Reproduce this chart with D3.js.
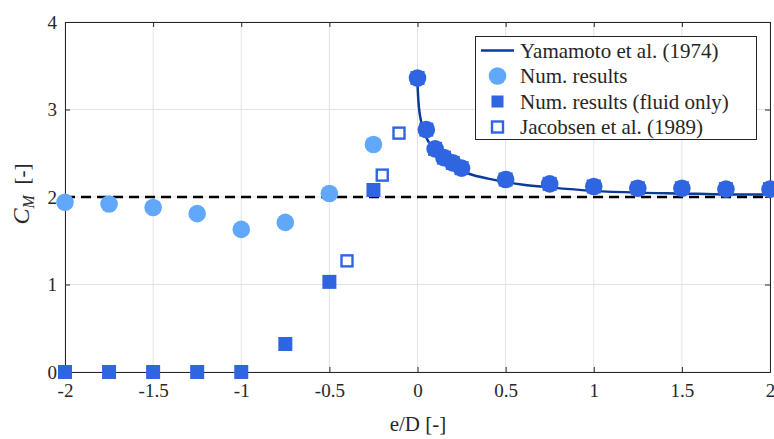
<!DOCTYPE html>
<html><head><meta charset="utf-8">
<script src="https://cdn.jsdelivr.net/npm/d3@7"></script>
<style>body{margin:0;background:#fff}svg{display:block}svg text{font-family:"Liberation Serif","Liberation Sans",serif;fill:#262626}</style>
</head><body><svg id="c" width="774" height="439"></svg>
<script>
// Data
const numE   = [-2,-1.75,-1.5,-1.25,-1,-0.75,-0.5,-0.25,0,0.05,0.1,0.15,0.2,0.25,0.5,0.75,1,1.25,1.5,1.75,2];
const numCM  = [1.94,1.92,1.88,1.81,1.63,1.71,2.04,2.60,3.36,2.77,2.55,2.45,2.39,2.33,2.20,2.15,2.12,2.10,2.10,2.09,2.09];
const fluidE = [-2,-1.75,-1.5,-1.25,-1,-0.75,-0.5,-0.25,0,0.05,0.1,0.15,0.2,0.25,0.5,0.75,1,1.25,1.5,1.75,2];
const fluidCM= [0,0,0,0,0,0.32,1.03,2.08,3.36,2.77,2.55,2.45,2.39,2.33,2.20,2.15,2.12,2.10,2.10,2.09,2.09];
const jacE   = [-0.4,-0.2,-0.105];
const jacCM  = [1.27,2.25,2.73];
const yamE   = [0,0.005,0.01,0.02,0.03,0.05,0.075,0.1,0.15,0.2,0.25,0.3,0.4,0.5,0.6,0.75,1,1.25,1.5,1.75,2];
const yamCM  = [3.29,3.10,2.99,2.87,2.79,2.68,2.59,2.52,2.42,2.35,2.30,2.26,2.21,2.17,2.14,2.11,2.07,2.05,2.04,2.03,2.03];
const xTicks = [-2,-1.5,-1,-0.5,0,0.5,1,1.5,2];
const yTicks = [0,1,2,3,4];
const legendLabels = ["Yamamoto et al. (1974)","Num. results","Num. results (fluid only)","Jacobsen et al. (1989)"];

const FONT='"Liberation Serif","Liberation Sans",serif';
const cLight="#61a8fb", cDark="#2f65e1", cLine="#0b3a98";
const svg=d3.select("#c");
const L=65,R=770,T=22,B=372;
const x=d3.scaleLinear().domain([-2,2]).range([L,R]);
const y=d3.scaleLinear().domain([0,4]).range([B,T]);

// grid
const g=svg.append("g");
g.selectAll(".gx").data(xTicks).enter().append("line")
 .attr("x1",d=>x(d)).attr("x2",d=>x(d)).attr("y1",T).attr("y2",B)
 .attr("stroke","#e3e3e3").attr("stroke-width",1);
g.selectAll(".gy").data(yTicks).enter().append("line")
 .attr("y1",d=>y(d)).attr("y2",d=>y(d)).attr("x1",L).attr("x2",R)
 .attr("stroke","#e3e3e3").attr("stroke-width",1);

// axes
const fmt=d=>String(d).replace("\u2212","-");
const xa=svg.append("g").attr("transform",`translate(0,${B})`)
 .call(d3.axisBottom(x).tickValues(xTicks).tickSize(-5).tickPadding(9).tickFormat(fmt));
const xt=svg.append("g").attr("transform",`translate(0,${T})`)
 .call(d3.axisTop(x).tickValues(xTicks).tickSize(-5).tickFormat(""));
const ya=svg.append("g").attr("transform",`translate(${L},0)`)
 .call(d3.axisLeft(y).tickValues(yTicks).tickSize(-5).tickPadding(8).tickFormat(fmt));
const yr=svg.append("g").attr("transform",`translate(${R},0)`)
 .call(d3.axisRight(y).tickValues(yTicks).tickSize(-5).tickFormat(""));
[xa,xt,ya,yr].forEach(a=>{a.attr("font-family",FONT);
 a.selectAll("path").attr("stroke","#262626").attr("stroke-width",1);
 a.selectAll("line").attr("stroke","#262626");
 a.selectAll("text").attr("font-size",19).attr("fill","#262626").attr("font-family",FONT);});
xa.selectAll("text").attr("dy","0.85em");

// dashed line at 2
svg.append("line").attr("x1",x(-2)).attr("x2",x(2)).attr("y1",y(2)).attr("y2",y(2))
 .attr("stroke","#000").attr("stroke-width",2.5).attr("stroke-dasharray","10,6");

// Yamamoto curve
const yam=yamE.map((e,i)=>[e,yamCM[i]]);
svg.append("path").datum(yam).attr("fill","none").attr("stroke",cLine).attr("stroke-width",2.5)
 .attr("d",d3.line().x(d=>x(d[0])).y(d=>y(d[1])).curve(d3.curveMonotoneX));

// Num results circles
const num=numE.map((e,i)=>[e,numCM[i]]);
svg.selectAll(".nc").data(num).enter().append("circle")
 .attr("cx",d=>x(d[0])).attr("cy",d=>y(d[1])).attr("r",8.8)
 .attr("fill",d=>d[0]>=0?cDark:cLight);
// fluid only squares
const fl=fluidE.map((e,i)=>[e,fluidCM[i]]);
const s=14;
svg.selectAll(".fs").data(fl).enter().append("rect")
 .attr("x",d=>x(d[0])-s/2).attr("y",d=>y(d[1])-s/2).attr("width",s).attr("height",s).attr("fill",cDark);
// Jacobsen open squares
const jac=jacE.map((e,i)=>[e,jacCM[i]]);
svg.selectAll(".js").data(jac).enter().append("rect")
 .attr("x",d=>x(d[0])-5.5).attr("y",d=>y(d[1])-5.5).attr("width",11).attr("height",11)
 .attr("fill","#fff").attr("stroke",cDark).attr("stroke-width",2.4);

// labels
svg.append("text").attr("x",418).attr("y",431).attr("text-anchor","middle").attr("font-size",21).attr("font-family",FONT).text("e/D [-]");
const yl=svg.append("text").attr("transform","translate(29,194) rotate(-90)").attr("text-anchor","middle").attr("font-size",21).attr("font-family",FONT);
yl.append("tspan").attr("font-style","italic").attr("font-size",24).text("C");
yl.append("tspan").attr("font-style","italic").attr("font-size",16).attr("dy",5).text("M");
yl.append("tspan").attr("dy",-5).text("\u2002[-]");

// legend
const lg=svg.append("g");
lg.append("rect").attr("x",475.5).attr("y",36.5).attr("width",281).attr("height",103).attr("fill","#fff").attr("stroke","#262626").attr("stroke-width",1);
const rows=[50.5,76,101.5,127];
lg.append("line").attr("x1",481).attr("x2",514).attr("y1",rows[0]).attr("y2",rows[0]).attr("stroke",cLine).attr("stroke-width",2.5);
lg.append("circle").attr("cx",497.5).attr("cy",rows[1]).attr("r",8.8).attr("fill",cLight);
lg.append("rect").attr("x",497.5-s/2+1).attr("y",rows[2]-s/2+1).attr("width",s-2).attr("height",s-2).attr("fill",cDark);
lg.append("rect").attr("x",492).attr("y",rows[3]-5.5).attr("width",11).attr("height",11).attr("fill","#fff").attr("stroke",cDark).attr("stroke-width",2.4);
lg.selectAll(".lt").data(legendLabels).enter().append("text")
 .attr("x",520).attr("y",(d,i)=>rows[i]).attr("dy","0.35em").attr("font-size",21).attr("font-family",FONT).text(d=>d);
</script></body></html>
